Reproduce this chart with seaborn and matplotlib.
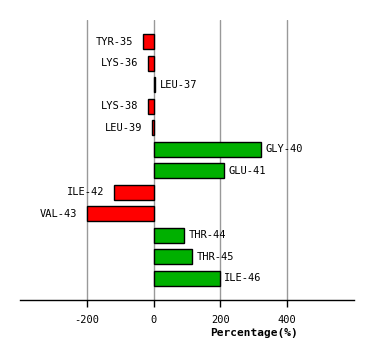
import matplotlib
matplotlib.use('Agg')
import matplotlib.pyplot as plt
import pandas as pd
import seaborn as sns

residues = ['TYR-35', 'LYS-36', 'LEU-37', 'LYS-38', 'LEU-39', 'GLY-40',
            'GLU-41', 'ILE-42', 'VAL-43', 'THR-44', 'THR-45', 'ILE-46']
percent = [-32, -17, 5, -17, -5, 323, 212, -119, -200, 92, 116, 198]
ticks = [-200, 0, 200, 400]

df = pd.DataFrame({'residue': residues, 'pct': percent})
df['sign'] = ['neg' if v < 0 else 'pos' for v in df['pct']]

sns.set_style('white')
plt.rcParams['font.family'] = ['DejaVu Sans Mono', 'DejaVu Sans']
plt.rcParams['text.color'] = 'black'
plt.rcParams['xtick.color'] = 'black'
plt.rcParams['axes.labelcolor'] = 'black'

fig = plt.figure(figsize=(3.74, 3.60), dpi=100)
ax = fig.add_axes([20 / 374, 60 / 360, 334 / 374, 280 / 360])

# grid lines behind the bars
for t in ticks:
    ax.axvline(t, color='#999999', lw=1, zorder=0)

sns.barplot(data=df, y='residue', x='pct', hue='sign', orient='h',
            palette={'neg': '#ff0000', 'pos': '#00b000'}, width=0.7,
            saturation=1, edgecolor='black', linewidth=1, legend=False,
            ax=ax, zorder=2)

for i, (name, v) in enumerate(zip(residues, percent)):
    if v < 0:
        ax.annotate(name, (v, i), xytext=(-7, 0), textcoords='offset points',
                    ha='right', va='center', fontsize=7.5)
    else:
        ax.annotate(name, (v, i), xytext=(3, 0), textcoords='offset points',
                    ha='left', va='center', fontsize=7.5)

ax.set_xlim(-400, 600)
ax.set_ylim(len(residues), -1)
ax.set_xticks(ticks)
ax.set_xticklabels([str(t) for t in ticks], fontsize=7.5)
ax.set_yticks([])
ax.set_ylabel('')
ax.set_xlabel('Percentage(%)', fontsize=8, fontweight='bold')
ax.xaxis.set_label_coords(0.70, -0.1)
ax.tick_params(axis='x', direction='out', length=5, width=1, color='black',
               bottom=True, pad=6)
for s in ['top', 'right', 'left']:
    ax.spines[s].set_visible(False)
ax.spines['bottom'].set_color('black')
ax.spines['bottom'].set_linewidth(1)

fig.savefig('out.png', dpi=100)
